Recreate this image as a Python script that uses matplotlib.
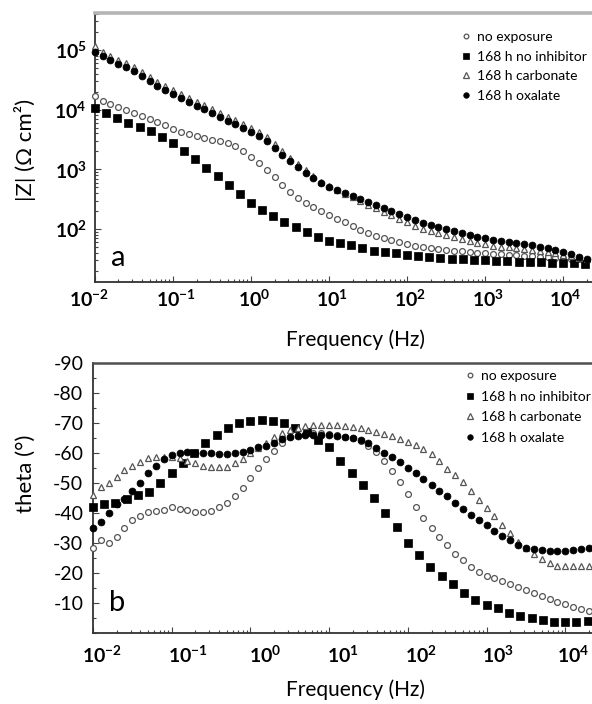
import matplotlib
matplotlib.use("Agg")
import matplotlib.pyplot as plt
import matplotlib.transforms as mtransforms
from matplotlib.ticker import FixedLocator, LogLocator, MultipleLocator, NullFormatter
from matplotlib.lines import Line2D

plt.rcParams['font.family'] = ['Lato', 'DejaVu Sans']
plt.rcParams['mathtext.fontset'] = 'custom'
plt.rcParams['mathtext.rm'] = 'Lato'
plt.rcParams['mathtext.bf'] = 'Lato:bold'
plt.rcParams['mathtext.it'] = 'Lato:italic'

# ---------------- data ----------------
series_names = ["no exposure", "168 h no inhibitor", "168 h carbonate", "168 h oxalate"]

# frequency sweeps (Hz): 10 points/decade and 7 points/decade
freq_10 = [0.01, 0.0126, 0.0158, 0.02, 0.0251, 0.0316, 0.0398, 0.0501, 0.0631, 0.0794,
           0.1, 0.126, 0.158, 0.2, 0.251, 0.316, 0.398, 0.501, 0.631, 0.794,
           1, 1.26, 1.58, 2, 2.51, 3.16, 3.98, 5.01, 6.31, 7.94,
           10, 12.6, 15.8, 20, 25.1, 31.6, 39.8, 50.1, 63.1, 79.4,
           100, 126, 158, 200, 251, 316, 398, 501, 631, 794,
           1000, 1260, 1580, 2000, 2510, 3160, 3980, 5010, 6310, 7940,
           10000, 12600, 15800, 20000]
freq_7 = [0.01, 0.0139, 0.0193, 0.0268, 0.0373, 0.0518, 0.072,
          0.1, 0.139, 0.193, 0.268, 0.373, 0.518, 0.72,
          1, 1.39, 1.93, 2.68, 3.73, 5.18, 7.2,
          10, 13.9, 19.3, 26.8, 37.3, 51.8, 72,
          100, 139, 193, 268, 373, 518, 720,
          1000, 1390, 1930, 2680, 3730, 5180, 7200,
          10000, 13900, 19300]

# |Z| (ohm cm^2)
zmod_no_exposure = [16900, 13900, 12400, 11100, 9840, 8770, 7820, 6960, 6200, 5520,
                    4730, 4220, 3900, 3610, 3340, 3100, 2980, 2760, 2460, 2030,
                    1610, 1280, 973, 743, 546, 417, 330, 273, 234, 200,
                    172, 147, 131, 112, 96.2, 85.7, 76.3, 70.7, 65.4, 60.6,
                    56.1, 51.9, 49.9, 48.1, 46.2, 44.5, 42.8, 42.0, 41.2, 39.6,
                    39.0, 38.1, 37.5, 36.7, 36.2, 35.3, 34.8, 34.0, 33.5, 32.7,
                    32.2, 31.4, 31.0, 30.3]
zmod_no_inhibitor = [10600, 8770, 7230, 5970, 5110, 4380, 3480,
                     2760, 2030, 1490, 1050, 773, 546, 386,
                     273, 208, 165, 131, 108, 89.1, 73.5,
                     63.0, 58.3, 54.0, 48.1, 42.8, 41.2, 39.6,
                     36.7, 35.3, 34.0, 32.7, 31.4, 31.2, 30.3,
                     30.1, 29.1, 29.0, 28.0, 27.9, 27.8, 26.9,
                     26.8, 26.7, 25.9]
zmod_carbonate = [116000, 92000, 79000, 68000, 60000, 52000, 42600, 35200, 29000, 25000,
                  21300, 18200, 15600, 13400, 11900, 10200, 8770, 7520, 6700, 5740,
                  4920, 4220, 3480, 2650, 2030, 1550, 1230, 973, 773, 613,
                  525, 450, 386, 344, 294, 252, 225, 193, 172, 147,
                  131, 112, 100, 92.6, 85.7, 79.3, 73.5, 68.0, 63.0, 58.3,
                  56.1, 51.9, 49.9, 49.5, 48.1, 46.2, 44.5, 42.8, 41.2, 39.6,
                  36.7, 35.3, 32.7, 31.4]
zmod_oxalate = [92000, 79000, 68000, 58000, 52000, 44000, 37000, 30000, 25000, 21000,
                18000, 15600, 13400, 11500, 10200, 8800, 7500, 6400, 5700, 4900,
                4200, 3600, 3000, 2300, 1740, 1380, 1090, 870, 715, 590,
                505, 450, 400, 357, 318, 283, 252, 225, 200, 178,
                159, 142, 126, 117, 108, 100, 93, 86, 79.3, 73.5,
                70.7, 65.4, 63.0, 60.6, 58.3, 56.1, 54.0, 49.9, 48.1, 44.5,
                41.2, 38.1, 34.0, 31.4]

# phase angle (degrees)
theta_no_exposure = [-28.3, -31, -30, -32, -35, -37.7, -39, -40.3, -40.7, -41,
                     -42, -41.3, -41, -40.3, -40.3, -40.7, -42, -43.3, -45.7, -48.3,
                     -51.7, -55, -58, -60.7, -63.3, -65.3, -66, -66.5, -66.7, -66.7,
                     -66.5, -66, -65.5, -65, -64, -62.5, -60.5, -57.5, -54, -50.5,
                     -46.5, -42, -38.2, -35, -32, -29.3, -26.5, -24.3, -22, -20.5,
                     -19, -18.5, -17.5, -16.5, -15.5, -14.3, -13.4, -12.4, -11.4, -10.5,
                     -9.7, -8.8, -8.0, -7.2]
theta_no_inhibitor = [-42, -43, -43.3, -44.7, -46, -47, -50,
                      -53.3, -56.7, -60, -63.3, -66, -68.3, -70,
                      -70.7, -71, -70.7, -70, -68.3, -67, -64.5,
                      -62, -57.5, -53.5, -49.5, -45, -40, -35.5,
                      -30, -26, -22, -19, -16.3, -13.5, -11,
                      -9.5, -8.2, -6.8, -5.8, -4.9, -4.2, -3.8,
                      -3.7, -3.7, -4.0]
theta_carbonate = [-46, -48.7, -50, -52, -54.3, -55.7, -57, -58.3, -58.7, -58.7,
                   -58.7, -58.3, -57.3, -56.7, -55.7, -55.3, -55.3, -55.3, -56.7, -58,
                   -60, -61.7, -63.3, -65.3, -66.7, -67.7, -68.5, -69, -69.3, -69.3,
                   -69.3, -69.3, -69, -68.7, -68.3, -67.7, -67, -66.5, -65.7, -64.7,
                   -63.8, -62.7, -61.3, -59.7, -57.5, -54.8, -52.8, -50.5, -47.5, -44.5,
                   -41.8, -39, -36, -33.2, -30.3, -28.2, -26.5, -24.6, -23.2, -22.5,
                   -22.3, -22.3, -22.3, -22.5]
theta_oxalate = [-35, -37, -40, -43, -44.7, -47.3, -50, -53.3, -55.7, -58,
                 -59.3, -60, -60.3, -60, -60, -60, -59.7, -59.7, -60, -60.3,
                 -61, -62, -62.5, -63.5, -64.7, -65.3, -65.7, -66, -66, -66,
                 -66, -65.8, -65.5, -65, -64.3, -63.2, -61.7, -60, -58.7, -57,
                 -55, -53.3, -51.2, -49.5, -47.5, -45.8, -43.5, -41.3, -39.5, -37.8,
                 -36, -34, -32.5, -31, -29.5, -28.5, -28, -27.7, -27.5, -27.5,
                 -27.5, -27.7, -28, -28.5]

x_decades = [0.01, 0.1, 1, 10, 100, 1000, 10000]
x_ticklabels = [r'$\mathbf{10^{-2}}$', r'$\mathbf{10^{-1}}$', r'$\mathbf{10^{0}}$', r'$\mathbf{10^{1}}$',
                r'$\mathbf{10^{2}}$', r'$\mathbf{10^{3}}$', r'$\mathbf{10^{4}}$']
z_decades = [100, 1000, 10000, 100000]
z_ticklabels = [r'$\mathbf{10^{2}}$', r'$\mathbf{10^{3}}$', r'$\mathbf{10^{4}}$', r'$\mathbf{10^{5}}$']
theta_ticks = [-10, -20, -30, -40, -50, -60, -70, -80, -90]

# ---------------- styling ----------------
styles = [
    dict(marker='o', ms=4.2, mfc='white', mec='#555555', mew=0.9),
    dict(marker='s', ms=5.2, mfc='black', mec='black', mew=0.5),
    dict(marker='^', ms=4.6, mfc='white', mec='#555555', mew=0.9),
    dict(marker='o', ms=5.0, mfc='black', mec='black', mew=0.5),
]

W, H = 592, 704
fig = plt.figure(figsize=(W / 100, H / 100), dpi=100)


def px_axes(left, top, right, bottom):
    return fig.add_axes([left / W, 1 - bottom / H, (right - left) / W, (bottom - top) / H])


def style_axes(ax, top_color, top_lw):
    ax.set_facecolor('white')
    ax.spines['right'].set_visible(False)
    ax.spines['top'].set_color(top_color)
    ax.spines['top'].set_linewidth(top_lw)
    for s in ('left', 'bottom'):
        ax.spines[s].set_color('#333333')
        ax.spines[s].set_linewidth(1.3)
    ax.tick_params(which='both', direction='in', color='#444444', width=0.8,
                   top=False, right=False)
    ax.tick_params(which='major', length=4)
    ax.tick_params(which='minor', length=2.5)


def shift_xlabels(ax, offsets_px):
    for t, dx in zip(ax.get_xticklabels(), offsets_px):
        t.set_transform(t.get_transform() +
                        mtransforms.ScaledTranslation(dx / 100, 0, fig.dpi_scale_trans))


# ---------- panel a: impedance modulus ----------
ax_a = px_axes(95, 13, 592, 282)
style_axes(ax_a, '#b4b4b4', 2.6)
ax_a.set_xscale('log')
ax_a.set_yscale('log')

zmods = [zmod_no_exposure, zmod_no_inhibitor, zmod_carbonate, zmod_oxalate]
freqs = [freq_10, freq_7, freq_10, freq_10]
for f, z, st in zip(freqs, zmods, styles):
    ax_a.plot(f, z, linestyle='none', clip_on=False, zorder=3, **st)

ax_a.set_xlim(0.01, 10 ** 4.37)
ax_a.set_ylim(10 ** 1.112, 10 ** 5.618)
ax_a.xaxis.set_major_locator(FixedLocator(x_decades))
ax_a.set_xticklabels(x_ticklabels)
ax_a.xaxis.set_minor_locator(LogLocator(base=10, subs=range(2, 10), numticks=20))
ax_a.xaxis.set_minor_formatter(NullFormatter())
ax_a.yaxis.set_major_locator(FixedLocator(z_decades))
ax_a.set_yticklabels(z_ticklabels)
ax_a.yaxis.set_minor_locator(LogLocator(base=10, subs=range(2, 10), numticks=20))
ax_a.yaxis.set_minor_formatter(NullFormatter())
ax_a.tick_params(axis='x', labelsize=14, pad=5)
ax_a.tick_params(axis='y', labelsize=14, pad=6)
shift_xlabels(ax_a, [-6, 3, 3, 3, 3, 3, 2])

# ---------- panel b: phase angle ----------
ax_b = px_axes(93, 363, 592, 633)
style_axes(ax_b, '#505050', 1.8)
ax_b.set_xscale('log')

thetas = [theta_no_exposure, theta_no_inhibitor, theta_carbonate, theta_oxalate]
for f, th, st in zip(freqs, thetas, styles):
    ax_b.plot(f, th, linestyle='none', clip_on=False, zorder=3, **st)

ax_b.set_xlim(0.01, 10 ** 4.34)
ax_b.set_ylim(0, -90)
ax_b.xaxis.set_major_locator(FixedLocator(x_decades))
ax_b.set_xticklabels(x_ticklabels)
ax_b.xaxis.set_minor_locator(LogLocator(base=10, subs=range(2, 10), numticks=20))
ax_b.xaxis.set_minor_formatter(NullFormatter())
ax_b.yaxis.set_major_locator(FixedLocator(theta_ticks))
ax_b.set_yticklabels([str(v) for v in theta_ticks])
ax_b.yaxis.set_minor_locator(MultipleLocator(5))
ax_b.tick_params(axis='x', labelsize=14, pad=8)
ax_b.tick_params(axis='y', labelsize=14, pad=7)
shift_xlabels(ax_b, [9, 16, 15, 14, 13, 11, 8])

# ---------- axis titles and panel letters ----------
fig.text(355 / W, 1 - 340 / H, 'Frequency (Hz)', fontsize=15, ha='center', va='center')
fig.text(355 / W, 1 - 690 / H, 'Frequency (Hz)', fontsize=15, ha='center', va='center')
fig.text(25 / W, 1 - 150 / H, '|Z| (Ω cm²)', fontsize=16, rotation=90,
         ha='center', va='center')
fig.text(26 / W, 1 - 474 / H, 'theta (°)', fontsize=16, rotation=90,
         ha='center', va='center')
fig.text(118 / W, 1 - 258 / H, 'a', fontsize=21, ha='center', va='center')
fig.text(117 / W, 1 - 603 / H, 'b', fontsize=21, ha='center', va='center')

# ---------- legends ----------
handles = [Line2D([], [], linestyle='none', **{**st, 'ms': st['ms'] * 0.8}) for st in styles]
for (lx, ly, spacing) in [(462, 31, 0.55), (466, 370, 0.62)]:
    fig.legend(handles, series_names, loc='upper left',
               bbox_to_anchor=(lx / W, 1 - ly / H), frameon=False, fontsize=10,
               handlelength=0.6, handletextpad=0.5, labelspacing=spacing,
               borderpad=0, borderaxespad=0, numpoints=1)

fig.savefig('out.png', dpi=100, facecolor='white')
